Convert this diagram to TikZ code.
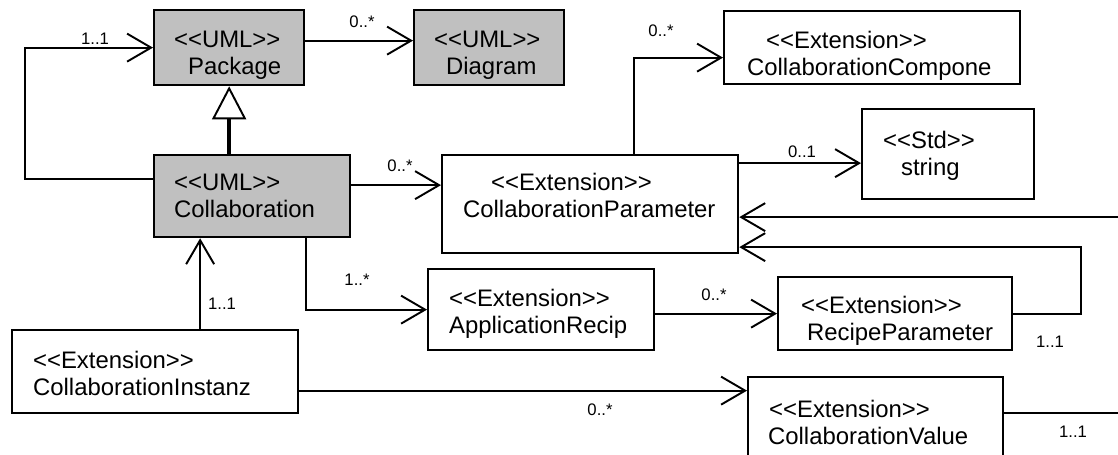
\documentclass[tikz,border=0pt]{standalone}
\usepackage{fontspec}
\setmainfont{Liberation Sans}[Ligatures=TeXOff]
\usepackage{tikz}
\usetikzlibrary{arrows.meta,positioning}
\newlength\umlu
\setlength\umlu{0.02cm}
\definecolor{umlgray}{HTML}{C0C0C0}
\hyphenpenalty=10000
\tikzset{
  cls/.style={draw, line width=1.3pt, anchor=north west, align=left,
    inner ysep=0pt, inner xsep=20\umlu, font=\fontsize{13.6}{15.6}\selectfont},
  uml/.style={cls, fill=umlgray},
  assoc/.style={line width=1.1pt, -{Straight Barb[length=0.48cm,width=0.56cm]}},
  gen/.style={line width=2.3pt, -{Triangle[open,length=0.66cm,width=0.68cm,line width=1.1pt]}},
  mult/.style={font=\fontsize{9.5}{10}\selectfont, inner sep=0pt}
}

\begin{document}
\begin{tikzpicture}[x=0.02cm, y=-0.02cm]
    \useasboundingbox (0,0) rectangle (1118,455);
    % classes
    \node[uml, text width=110\umlu, text height=37\umlu, text depth=38\umlu] (pkg) at (153,9) {<<UML>>\\\hspace*{14\umlu}Package};
    \node[uml, text width=110\umlu, text height=37\umlu, text depth=38\umlu] (dgm) at (413,9) {<<UML>>\\\hspace*{12\umlu}Diagram};
    \node[uml, text width=156\umlu, text height=35\umlu, text depth=47\umlu] (collab) at (153,154) {<<UML>>\\Collaboration};
    \node[cls, text width=256\umlu, text height=35\umlu, text depth=63\umlu] (cparam) at (441,154) {\hspace*{29\umlu}<<Extension>>\\\hspace*{1\umlu}CollaborationParameter};
    \node[cls, text width=256\umlu, text height=37\umlu, text depth=36\umlu] (comp) at (723,10) {\hspace*{22\umlu}<<Extension>>\\\hspace*{3\umlu}CollaborationCompone};
    \node[cls, text width=132\umlu, text height=39\umlu, text depth=51\umlu] (str) at (861,108) {\hspace*{1\umlu}<<Std>>\\\hspace*{19\umlu}string};
    \node[cls, inner xsep=21\umlu, text width=184\umlu, text height=37\umlu, text depth=44\umlu] (apprec) at (427,268) {<<Extension>>\\ApplicationRecip};
    \node[cls, inner xsep=16\umlu, text width=202\umlu, text height=36\umlu, text depth=37\umlu] (recpar) at (777,276) {\hspace*{7\umlu}<<Extension>>\\\hspace*{13\umlu}RecipeParameter};
    \node[cls, inner xsep=21\umlu, text width=244\umlu, text height=38\umlu, text depth=45\umlu] (cinst) at (11,329) {<<Extension>>\\CollaborationInstanz};
    \node[cls, text width=215\umlu, text height=40\umlu, text depth=60\umlu] (cval) at (747,376) {\hspace*{1\umlu}<<Extension>>\\CollaborationValue};
    % connector ends
    \coordinate (collabA) at ([yshift=17\umlu]collab.west);
    \coordinate (pkgA) at ([yshift=7\umlu]pkg.east);
    \coordinate (collabB) at ([yshift=11\umlu]collab.east);
    \coordinate (cparamA) at ([xshift=44\umlu]cparam.north);
    \coordinate (compA) at ([yshift=-10\umlu]comp.west);
    \coordinate (cparamB) at ([yshift=41\umlu]cparam.east);
    \coordinate (cparamC) at ([yshift=-13\umlu]cparam.east);
    \coordinate (cparamD) at ([yshift=-43\umlu]cparam.east);
    \coordinate (cvalA) at ([yshift=14\umlu]cval.east);
    \coordinate (collabC) at ([xshift=54\umlu]collab.south);
    \coordinate (cinstA) at ([xshift=45\umlu]cinst.north);
    \coordinate (cinstB) at ([yshift=-19\umlu]cinst.east);
    \coordinate (rimL) at (25,0);
    \coordinate (rimR) at (1135,0);
    \coordinate (rimB) at (1081,0);
    % connectors
    \draw[assoc] (collabA) -- (collabA -| rimL) |- (pkg.west);
    \draw[assoc] (pkgA) -- (pkgA -| dgm.west);
    \draw[gen] (pkg.south |- collab.north) -- (pkg.south);
    \draw[assoc] (collabB) -- (collabB -| cparam.west);
    \draw[assoc] (cparamA) |- (compA);
    \draw[assoc] (cparamB) -- (cparamB -| str.west);
    \draw[assoc] (cvalA) -- (cvalA -| rimR) |- (cparamC);
    \draw[assoc] (recpar.east) -- (recpar.east -| rimB) |- (cparamD);
    \draw[assoc] (collabC) |- (apprec.west);
    \draw[assoc] (cinstA) -- (cinstA |- collab.south);
    \draw[assoc] (apprec.east |- recpar.west) -- (recpar.west);
    \draw[assoc] (cinstB) -- (cinstB -| cval.west);
    % multiplicities
    \node[mult] (m1) at (95,39) {1..1};
    \node[mult] (m2) at (362,22) {0..*};
    \node[mult] (m3) at (400,166) {0..*};
    \node[mult] (m4) at (661,31) {0..*};
    \node[mult] (m5) at (802,152) {0..1};
    \node[mult] (m6) at (1050,342) {1..1};
    \node[mult] (m7) at (357,280) {1..*};
    \node[mult] (m8) at (222,304) {1..1};
    \node[mult] (m9) at (714,295) {0..*};
    \node[mult] (m10) at (600,410) {0..*};
    \node[mult] (m11) at (1073,432) {1..1};
\end{tikzpicture}
\end{document}
